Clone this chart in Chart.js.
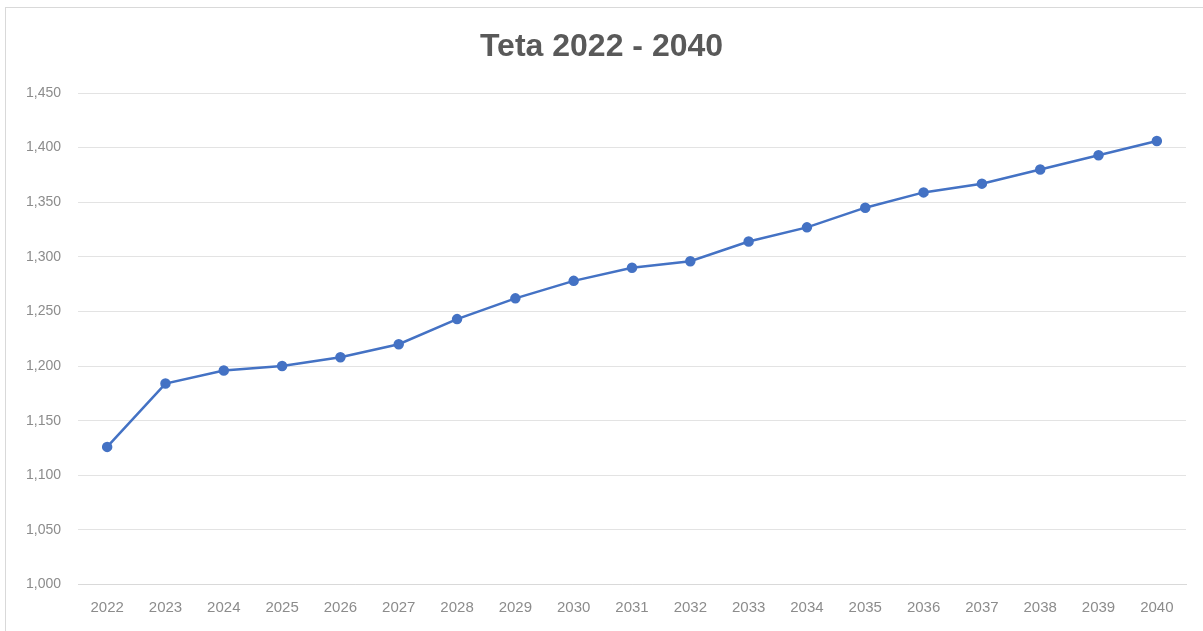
<!DOCTYPE html>
<html>
<head>
<meta charset="utf-8">
<script src="https://cdn.jsdelivr.net/npm/chart.js@4"></script>
<style>
  html, body { margin: 0; padding: 0; background: #ffffff; }
  #wrap { position: relative; width: 1203px; height: 631px; overflow: hidden; }
  #frame { position: absolute; left: 5px; top: 7px; width: 1300px; height: 700px; border: 1px solid #d9d9d9; box-sizing: border-box; }
  canvas { position: absolute; left: 0; top: 0; }
</style>
</head>
<body>
<div id="wrap">
  <div id="frame"></div>
  <canvas id="c" width="1203" height="631"></canvas>
</div>
<script>
const titleText = "Teta 2022 - 2040";
const years = ["2022","2023","2024","2025","2026","2027","2028","2029","2030","2031","2032","2033","2034","2035","2036","2037","2038","2039","2040"];
const tetaValues = [1126, 1184, 1196, 1200, 1208, 1220, 1243, 1262, 1278, 1290, 1296, 1314, 1327, 1345, 1359, 1367, 1380, 1393, 1406];
const yMin = 1000;
const yMax = 1450;
const yStep = 50;

const ctx = document.getElementById('c').getContext('2d');
new Chart(ctx, {
  type: 'line',
  data: {
    labels: years,
    datasets: [{
      label: 'Teta',
      data: tetaValues,
      borderColor: '#4472C4',
      backgroundColor: '#4472C4',
      borderWidth: 2.5,
      pointRadius: 4,
      pointBackgroundColor: '#4472C4',
      pointBorderColor: '#4472C4',
      tension: 0,
      fill: false,
      yAxisID: 'y'
    }]
  },
  options: {
    responsive: false,
    animation: false,
    devicePixelRatio: 1,
    layout: { padding: { left: 0, right: 0, top: 0, bottom: 0 } },
    plugins: {
      legend: { display: false },
      tooltip: { enabled: false },
      title: {
        display: true,
        text: titleText,
        color: '#595959',
        font: { family: 'Liberation Sans', size: 32, weight: 'bold', lineHeight: 1.2 },
        padding: { top: 28, bottom: 26.6 }
      }
    },
    scales: {
      x: {
        offset: true,
        grid: { display: false, drawTicks: false },
        border: { display: true, color: '#d9d9d9', width: 1 },
        ticks: {
          color: '#8c8c8c',
          font: { family: 'Liberation Sans', size: 15 },
          padding: 14,
          maxRotation: 0,
          autoSkip: false
        },
        afterFit: (s) => { s.height = 46.5; }
      },
      y: {
        min: yMin,
        max: yMax,
        grid: { color: '#e3e3e3', lineWidth: 1, drawTicks: false },
        border: { display: false },
        ticks: {
          stepSize: yStep,
          color: '#8c8c8c',
          font: { family: 'Liberation Sans', size: 14 },
          padding: 17,
          callback: (v) => v.toLocaleString('en-US')
        },
        afterFit: (s) => { s.width = 78; }
      },
      yRight: {
        position: 'right',
        min: yMin,
        max: yMax,
        grid: { display: false, drawTicks: false },
        border: { display: false },
        ticks: { display: false },
        afterFit: (s) => { s.width = 17; }
      }
    }
  }
});
</script>
</body>
</html>
